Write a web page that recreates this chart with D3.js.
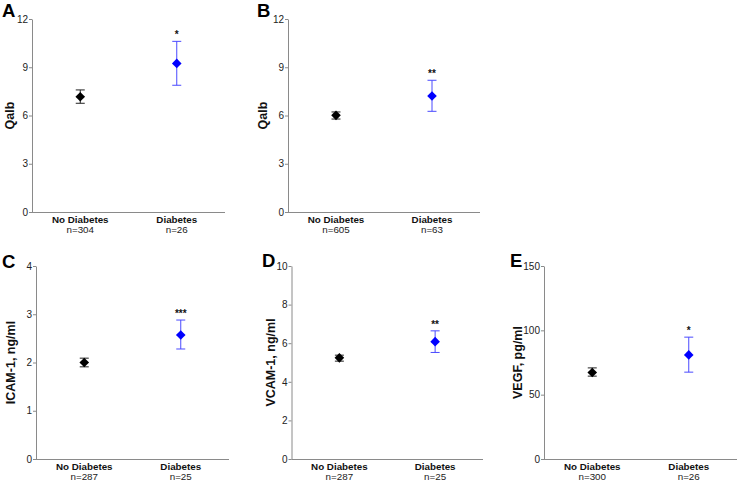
<!DOCTYPE html>
<html><head><meta charset="utf-8">
<script src="https://cdn.jsdelivr.net/npm/d3@7"></script>
<style>body{margin:0;background:#fff}svg{display:block}text{font-family:"Liberation Sans",Arial,sans-serif}</style>
</head><body>
<script>
const panelLetters = ["A","B","C","D","E"];
const yTitles = ["Qalb","Qalb","ICAM-1, ng/ml","VCAM-1, ng/ml","VEGF, pg/ml"];
const yMax = [12,12,4,10,150];
const yTickStep = [3,3,1,2,50];
const categories = ["No Diabetes","Diabetes"];
const nNoDiab = [304,605,287,287,300];
const nDiab = [26,63,25,25,26];
const meanNoDiab = [7.17,6.01,2.0,5.24,67.2];
const lowNoDiab = [6.76,5.78,1.91,5.07,64.4];
const highNoDiab = [7.59,6.22,2.09,5.38,70.8];
const meanDiab = [9.24,7.21,2.57,6.08,80.9];
const lowDiab = [7.88,6.26,2.28,5.52,67.5];
const highDiab = [10.61,8.19,2.88,6.64,94.7];
const stars = ["*","**","***","**","*"];

// layout (pixels)
const frames = [
  {x0:32, x1:225, y0:19, y1:212, lx:2, ly:17, tx:14},
  {x0:288, x1:480, y0:19, y1:212, lx:257, ly:17, tx:267},
  {x0:36, x1:229, y0:266, y1:459, lx:2, ly:268, tx:15},
  {x0:291.5, x1:483, y0:266, y1:459, lx:262, ly:267, tx:275},
  {x0:544, x1:737, y0:266, y1:459, lx:510, ly:267, tx:522}
];

const svg = d3.select("body").append("svg").attr("width",738).attr("height",482);
svg.append("rect").attr("width",738).attr("height",482).attr("fill","#fff");

panelLetters.forEach((L,i)=>{
  const f = frames[i];
  const g = svg.append("g");
  const y = d3.scaleLinear().domain([0,yMax[i]]).range([f.y1,f.y0]);
  const x = d3.scalePoint().domain(categories).range([f.x0,f.x1]).padding(0.5);
  const ticks = d3.range(0,yMax[i]+1e-9,yTickStep[i]);

  const ax = g.append("g").attr("transform",`translate(${f.x0},0)`)
    .call(d3.axisLeft(y).tickValues(ticks).tickFormat(d3.format("d")).tickSize(3).tickPadding(1).tickSizeOuter(0));
  ax.select(".domain").attr("stroke","#8a8a8a");
  ax.selectAll(".tick line").attr("stroke","#8a8a8a");
  ax.selectAll(".tick text").attr("font-size",10).attr("fill","#222").attr("font-family","Liberation Sans, Arial, sans-serif");

  g.append("line").attr("x1",f.x0).attr("x2",f.x1).attr("y1",f.y1+0.5).attr("y2",f.y1+0.5).attr("stroke","#8a8a8a");

  // category labels
  const ns = [nNoDiab[i], nDiab[i]];
  categories.forEach((c,j)=>{
    g.append("text").attr("x",x(c)).attr("y",f.y1+11).attr("text-anchor","middle")
      .attr("font-size",9.8).attr("font-weight","bold").attr("fill","#111").text(c);
    g.append("text").attr("x",x(c)).attr("y",f.y1+21).attr("text-anchor","middle")
      .attr("font-size",9.8).attr("fill","#222").text("n="+ns[j]);
  });

  // y title
  g.append("text").attr("transform",`translate(${f.tx},${(f.y0+f.y1)/2}) rotate(-90)`)
    .attr("text-anchor","middle").attr("font-size",12.5).attr("font-weight","bold").attr("fill","#111").text(yTitles[i]);

  // panel letter
  g.append("text").attr("x",f.lx).attr("y",f.ly).attr("font-size",18.5).attr("font-weight","bold").attr("fill","#000").text(L);

  const pts = [
    {c:categories[0], m:meanNoDiab[i], lo:lowNoDiab[i], hi:highNoDiab[i], line:"#222", fill:"#000"},
    {c:categories[1], m:meanDiab[i], lo:lowDiab[i], hi:highDiab[i], line:"#4a4aff", fill:"#0000ff"}
  ];
  pts.forEach(p=>{
    const cx = x(p.c);
    g.append("line").attr("x1",cx).attr("x2",cx).attr("y1",y(p.lo)).attr("y2",y(p.hi)).attr("stroke",p.line).attr("stroke-width",1);
    [p.lo,p.hi].forEach(v=>{
      g.append("line").attr("x1",cx-4.5).attr("x2",cx+4.5).attr("y1",y(v)).attr("y2",y(v)).attr("stroke",p.line).attr("stroke-width",1);
    });
    g.append("path").attr("transform",`translate(${cx},${y(p.m)})`)
      .attr("d","M0,-4.8L4.8,0L0,4.8L-4.8,0Z").attr("fill",p.fill);
  });
  g.append("text").attr("x",x(categories[1])).attr("y",y(highDiab[i])-3).attr("text-anchor","middle")
    .attr("font-size",10).attr("font-weight","bold").attr("fill","#111").text(stars[i]);
});
</script>
</body></html>
